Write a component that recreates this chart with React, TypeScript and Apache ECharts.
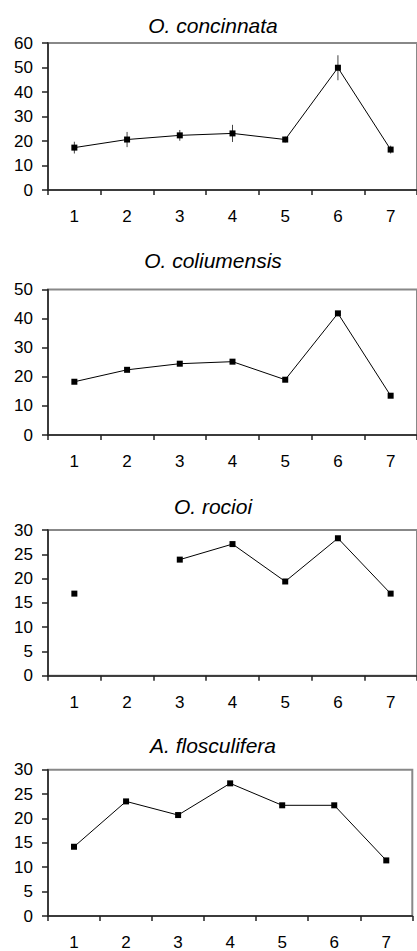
import React, { useEffect, useRef } from "react";
import * as echarts from "echarts";

const categories = ["1", "2", "3", "4", "5", "6", "7"];

const titles = ["O. concinnata", "O. coliumensis", "O. rocioi", "A. flosculifera"];

const concinnata = [17.3, 20.6, 22.3, 23.1, 20.6, 49.9, 16.5];
const concinnataErr = [2.4, 3.1, 2.2, 3.5, 1.2, 5.1, 1.6];
const coliumensis = [18.3, 22.4, 24.5, 25.2, 19.0, 41.8, 13.5];
const rocioi = [16.9, null, 23.9, 27.1, 19.4, 28.3, 16.9];
const flosculifera = [14.2, 23.5, 20.7, 27.2, 22.7, 22.7, 11.4];

const yMax = [60, 50, 30, 30];
const yInterval = [10, 10, 5, 5];

const FONT = "'Liberation Sans', Arial, sans-serif";

export default function App() {
  const ref = useRef<HTMLDivElement>(null);
  useEffect(() => {
    document.body.style.margin = "0";
    const chart = echarts.init(ref.current!, null, { renderer: "svg" });
    const grids = [
      { left: 48, top: 43, width: 371, height: 147 },
      { left: 48, top: 289.5, width: 371, height: 145.5 },
      { left: 48, top: 530, width: 371, height: 145.7 },
      { left: 48, top: 769.7, width: 364.3, height: 148 },
    ];
    const titleY = [25, 260.7, 506.7, 745];
    const seriesData = [concinnata, coliumensis, rocioi, flosculifera];

    const option: any = {
      animation: false,
      backgroundColor: "#fff",
      grid: grids.map((g) => ({
        ...g,
        show: true,
        borderColor: "#888",
        borderWidth: 2,
        backgroundColor: "transparent",
      })),
      xAxis: grids.map((_, i) => ({
        type: "category",
        gridIndex: i,
        data: categories,
        boundaryGap: true,
        axisLine: { show: true, lineStyle: { color: "#222", width: 1.5 } },
        axisTick: { show: true, length: 5, alignWithLabel: false, lineStyle: { color: "#222", width: 1.5 } },
        axisLabel: { color: "#000", fontSize: 17, fontFamily: FONT, margin: 18 },
        splitLine: { show: false },
      })),
      yAxis: grids.map((_, i) => ({
        type: "value",
        gridIndex: i,
        min: 0,
        max: yMax[i],
        interval: yInterval[i],
        axisLine: { show: true, lineStyle: { color: "#222", width: 1.5 } },
        axisTick: { show: true, length: 6, lineStyle: { color: "#222", width: 1.5 } },
        axisLabel: { color: "#000", fontSize: 17, fontFamily: FONT, margin: 15 },
        splitLine: { show: false },
      })),
      graphic: titles.map((t, i) => ({
        type: "text",
        x: 213,
        y: titleY[i],
        style: {
          text: t,
          fill: "#000",
          font: `italic 21px ${FONT}`,
          textAlign: "center",
          textVerticalAlign: "middle",
        },
      })),
      series: [
        {
          type: "custom",
          xAxisIndex: 0,
          yAxisIndex: 0,
          z: 1,
          data: concinnata.map((v, i) => [i, v - concinnataErr[i], v + concinnataErr[i]]),
          renderItem: (params: any, api: any) => {
            const lo = api.coord([api.value(0), api.value(1)]);
            const hi = api.coord([api.value(0), api.value(2)]);
            return {
              type: "line",
              shape: { x1: lo[0], y1: lo[1], x2: hi[0], y2: hi[1] },
              style: { stroke: "#444", lineWidth: 1 },
            };
          },
        },
        ...seriesData.map((d, i) => ({
          type: "line",
          xAxisIndex: i,
          yAxisIndex: i,
          z: 3,
          data: d,
          connectNulls: false,
          symbol: "rect",
          symbolSize: 6,
          showAllSymbol: true,
          itemStyle: { color: "#000" },
          lineStyle: { color: "#000", width: 1 },
        })),
      ],
    };
    chart.setOption(option);
    return () => chart.dispose();
  }, []);
  return <div ref={ref} style={{ width: 417, height: 951 }} />;
}
